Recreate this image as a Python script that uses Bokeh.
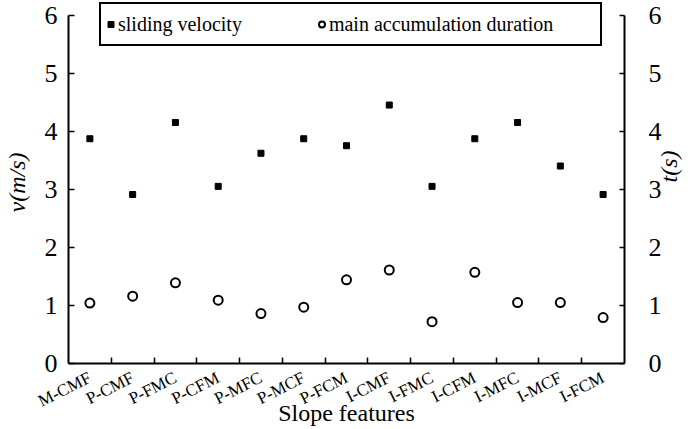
import math
from bokeh.plotting import figure
from bokeh.models import Range1d, LinearAxis, FixedTicker, Legend, LegendItem
from bokeh.embed import file_html
from bokeh.resources import INLINE

# ---- data ----
categories = ["M-CMF", "P-CMF", "P-FMC", "P-CFM", "P-MFC", "P-MCF", "P-FCM",
              "I-CMF", "I-FMC", "I-CFM", "I-MFC", "I-MCF", "I-FCM"]
sliding_velocity = [3.87, 2.91, 4.15, 3.05, 3.62, 3.87, 3.75,
                    4.45, 3.05, 3.87, 4.15, 3.40, 2.91]          # v (m/s)
accumulation_duration = [1.04, 1.16, 1.39, 1.09, 0.86, 0.97, 1.44,
                         1.61, 0.72, 1.57, 1.05, 1.05, 0.79]     # t (s)
y_ticks = [0, 1, 2, 3, 4, 5, 6]
v_label = "v(m/s)"
t_label = "t(s)"
x_title = "Slope features"
legend_labels = ["sliding velocity", "main accumulation duration"]

FONT = "Liberation Serif"
n = len(categories)
xs = list(range(n))
y_top = 6.233   # small head-room so the top tick label is not cut

p = figure(width=699, height=429, output_backend="svg", toolbar_location=None,
           x_range=Range1d(-0.5, n - 0.5), y_range=Range1d(y_ticks[0], y_top),
           x_axis_location=None, y_axis_location=None,
           min_border_left=63, min_border_right=75, min_border_top=1, min_border_bottom=66)
p.outline_line_color = None
p.grid.visible = False
p.background_fill_color = "white"
p.border_fill_color = "white"
p.extra_y_ranges = {"t": Range1d(y_ticks[0], y_top)}


def style_axis(ax, tick_in):
    ax.axis_line_width = 2
    ax.axis_line_color = "black"
    ax.major_tick_line_width = 1.5
    ax.major_tick_line_color = "black"
    ax.major_tick_in = tick_in
    ax.major_tick_out = 0
    ax.minor_tick_in = 0
    ax.minor_tick_out = 0
    ax.major_label_text_font = FONT
    ax.major_label_text_font_style = "normal"
    ax.major_label_text_color = "black"
    ax.axis_label_text_font = FONT
    ax.axis_label_text_color = "black"
    ax.axis_label_text_font_size = "24px"


yl = LinearAxis(ticker=FixedTicker(ticks=y_ticks), bounds=(y_ticks[0], y_ticks[-1]),
                axis_label=v_label)
style_axis(yl, 6)
yl.major_label_text_font_size = "26px"
yl.major_label_standoff = 11
yl.axis_label_text_font_style = "italic"
yl.axis_label_standoff = 12
p.add_layout(yl, "left")

yr = LinearAxis(y_range_name="t", ticker=FixedTicker(ticks=y_ticks),
                bounds=(y_ticks[0], y_ticks[-1]), axis_label=t_label)
style_axis(yr, 5)
yr.major_label_text_font_size = "26px"
yr.major_label_standoff = 24
yr.axis_label_text_font_style = "italic"
yr.axis_label_orientation = math.pi / 2
yr.axis_label_standoff = 4
p.add_layout(yr, "right")

xa = LinearAxis(ticker=FixedTicker(ticks=xs, minor_ticks=[i + 0.5 for i in range(n - 1)]),
                major_label_overrides={i: c for i, c in enumerate(categories)},
                axis_label=x_title)
style_axis(xa, 0)
xa.minor_tick_in = 6
xa.minor_tick_out = 0
xa.minor_tick_line_width = 1.5
xa.minor_tick_line_color = "black"
xa.major_tick_line_color = None
xa.major_label_text_font_size = "17px"
xa.major_label_orientation = 0.47
xa.major_label_standoff = 13
xa.axis_label_text_font_style = "normal"
xa.axis_label_standoff = -22
p.add_layout(xa, "below")

r_v = p.scatter(xs, sliding_velocity, marker="square", size=6,
                fill_color="black", line_color="black", line_width=1)
r_t = p.scatter(xs, accumulation_duration, marker="circle", size=9,
                fill_color="white", line_color="black", line_width=2, y_range_name="t")

legend = Legend(items=[LegendItem(label=legend_labels[0], renderers=[r_v]),
                       LegendItem(label=legend_labels[1] + " " * 9, renderers=[r_t])],
                orientation="horizontal", location=(31, 317), margin=0,
                padding=2, spacing=72, glyph_width=15, glyph_height=36,
                label_standoff=-3,
                label_text_font=FONT, label_text_font_size="20px", label_text_color="black",
                border_line_color="black", border_line_width=2.5, border_line_alpha=1.0,
                background_fill_color="white", background_fill_alpha=1)
p.add_layout(legend, "center")

open("out.html", "w").write(file_html(p, INLINE))
